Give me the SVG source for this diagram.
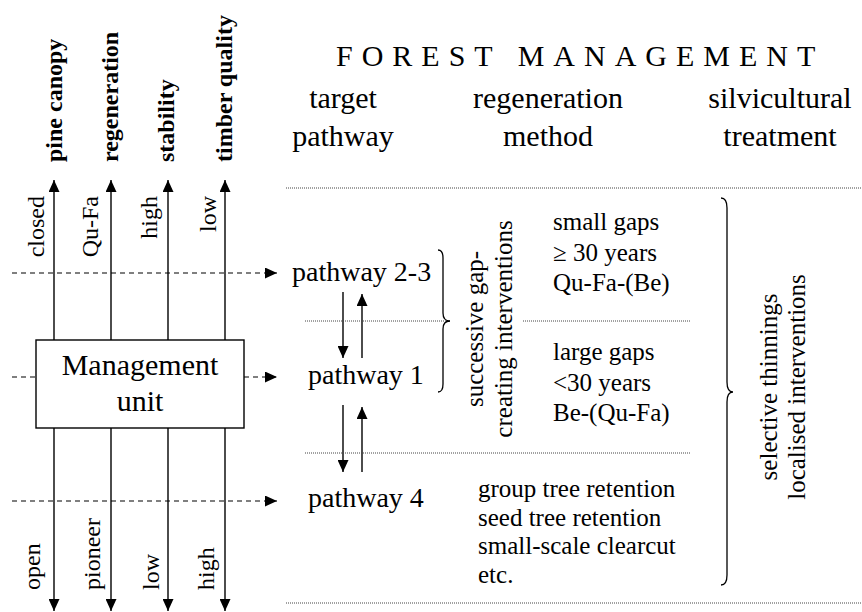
<svg xmlns="http://www.w3.org/2000/svg" width="862" height="612" viewBox="0 0 862 612">
<defs>
<marker id="ah" viewBox="0 0 12 11" refX="12" refY="5.5" markerWidth="12" markerHeight="11" markerUnits="userSpaceOnUse" orient="auto">
<path d="M0,0 L12,5.5 L0,11 z" fill="#000"/>
</marker>
<style>
text{font-family:"Liberation Serif","Times New Roman",serif;fill:#000}
.lab{font-size:24px}
.bold{font-size:24px;font-weight:bold}
.hdr{font-size:30px;text-anchor:middle}
.pw{font-size:28px}
.rc{font-size:25px}
.solid{stroke:#000;stroke-width:1.4;fill:none}
.dash{stroke:#000;stroke-width:1.2;stroke-dasharray:5 4;fill:none}
.dot{stroke:#444;stroke-width:1;stroke-dasharray:1 1;fill:none}
.brace{stroke:#000;stroke-width:1.3;fill:none}
</style>
</defs>
<rect width="862" height="612" fill="#fff"/>

<g id="title">
<text x="336" y="66" style="font-size:30px;letter-spacing:9px">FOREST MANAGEMENT</text>
</g>
<g id="headers">
<text class="hdr" x="343" y="108">target</text>
<text class="hdr" x="343" y="146">pathway</text>
<text class="hdr" x="548" y="108">regeneration</text>
<text class="hdr" x="548" y="146">method</text>
<text class="hdr" x="780" y="108">silvicultural</text>
<text class="hdr" x="780" y="146">treatment</text>
</g>

<g id="criteria-labels">
<text class="bold" transform="translate(62,162) rotate(-90)">pine canopy</text>
<text class="bold" transform="translate(118,162) rotate(-90)">regeneration</text>
<text class="bold" transform="translate(174,162) rotate(-90)">stability</text>
<text class="bold" transform="translate(232,162) rotate(-90)">timber quality</text>
<text class="lab" text-anchor="end" transform="translate(44,196) rotate(-90)">closed</text>
<text class="lab" text-anchor="end" transform="translate(98,196) rotate(-90)">Qu-Fa</text>
<text class="lab" text-anchor="end" transform="translate(157,196) rotate(-90)">high</text>
<text class="lab" text-anchor="end" transform="translate(216,196) rotate(-90)">low</text>
<text class="lab" transform="translate(40,590) rotate(-90)">open</text>
<text class="lab" transform="translate(100,590) rotate(-90)">pioneer</text>
<text class="lab" transform="translate(159,590) rotate(-90)">low</text>
<text class="lab" transform="translate(214,590) rotate(-90)">high</text>
</g>

<g id="connectors">
<line class="solid" x1="54" y1="340" x2="54" y2="180" marker-end="url(#ah)"/>
<line class="solid" x1="111" y1="340" x2="111" y2="180" marker-end="url(#ah)"/>
<line class="solid" x1="168" y1="340" x2="168" y2="180" marker-end="url(#ah)"/>
<line class="solid" x1="225" y1="340" x2="225" y2="180" marker-end="url(#ah)"/>
<line class="solid" x1="54" y1="428" x2="54" y2="611" marker-end="url(#ah)"/>
<line class="solid" x1="111" y1="428" x2="111" y2="611" marker-end="url(#ah)"/>
<line class="solid" x1="168" y1="428" x2="168" y2="611" marker-end="url(#ah)"/>
<line class="solid" x1="225" y1="428" x2="225" y2="611" marker-end="url(#ah)"/>
<line class="dash" x1="12" y1="273" x2="277" y2="273" marker-end="url(#ah)"/>
<line class="dash" x1="12" y1="377" x2="36" y2="377"/>
<line class="dash" x1="244" y1="377" x2="277" y2="377" marker-end="url(#ah)"/>
<line class="dash" x1="12" y1="501" x2="277" y2="501" marker-end="url(#ah)"/>
<line class="solid" x1="343" y1="292" x2="343" y2="358" marker-end="url(#ah)"/>
<line class="solid" x1="362" y1="358" x2="362" y2="294" marker-end="url(#ah)"/>
<line class="solid" x1="343" y1="405" x2="343" y2="472" marker-end="url(#ah)"/>
<line class="solid" x1="362" y1="472" x2="362" y2="407" marker-end="url(#ah)"/>
</g>

<g id="dividers">
<line class="dot" x1="286" y1="188" x2="862" y2="188"/>
<line class="dot" x1="305" y1="321" x2="450" y2="321"/>
<line class="dot" x1="523" y1="321" x2="690" y2="321"/>
<line class="dot" x1="305" y1="453" x2="690" y2="453"/>
<line class="dot" x1="286" y1="603" x2="862" y2="603"/>
</g>

<g id="management-unit">
<rect x="36" y="340" width="208" height="88" fill="#fff" stroke="#000" stroke-width="1.4"/>
<text x="140" y="375" style="font-size:30px;text-anchor:middle">Management</text>
<text x="140" y="411" style="font-size:30px;text-anchor:middle">unit</text>
</g>

<g id="pathway-2-3"><text class="pw" x="292" y="281">pathway 2-3</text></g>
<g id="pathway-1"><text class="pw" x="308" y="384">pathway 1</text></g>
<g id="pathway-4"><text class="pw" x="308" y="507">pathway 4</text></g>

<g id="gap-interventions">
<path class="brace" d="M438,250 Q443,250 443,258 L443,313 Q443,321 450,321 Q443,321 443,329 L443,384 Q443,392 438,392"/>
<text class="rc" text-anchor="middle" transform="translate(483,329) rotate(-90)">successive gap-</text>
<text class="rc" text-anchor="middle" transform="translate(512,329) rotate(-90)">creating interventions</text>
</g>

<g id="small-gaps">
<text class="rc" x="553" y="230">small gaps</text>
<text class="rc" x="553" y="261">≥ 30 years</text>
<text class="rc" x="553" y="291">Qu-Fa-(Be)</text>
</g>
<g id="large-gaps">
<text class="rc" x="553" y="360">large gaps</text>
<text class="rc" x="553" y="391">&lt;30 years</text>
<text class="rc" x="553" y="421">Be-(Qu-Fa)</text>
</g>
<g id="retention">
<text class="rc" x="478" y="497">group tree retention</text>
<text class="rc" x="478" y="525.5">seed tree retention</text>
<text class="rc" x="478" y="554">small-scale clearcut</text>
<text class="rc" x="478" y="582.5">etc.</text>
</g>

<g id="silvicultural-treatment">
<path class="brace" d="M721,198 Q727,198 727,208 L727,382 Q727,392 733,392 Q727,392 727,402 L727,575 Q727,585 721,585"/>
<text class="rc" text-anchor="middle" transform="translate(777,387) rotate(-90)">selective thinnings</text>
<text class="rc" text-anchor="middle" transform="translate(805,387) rotate(-90)">localised interventions</text>
</g>
</svg>
